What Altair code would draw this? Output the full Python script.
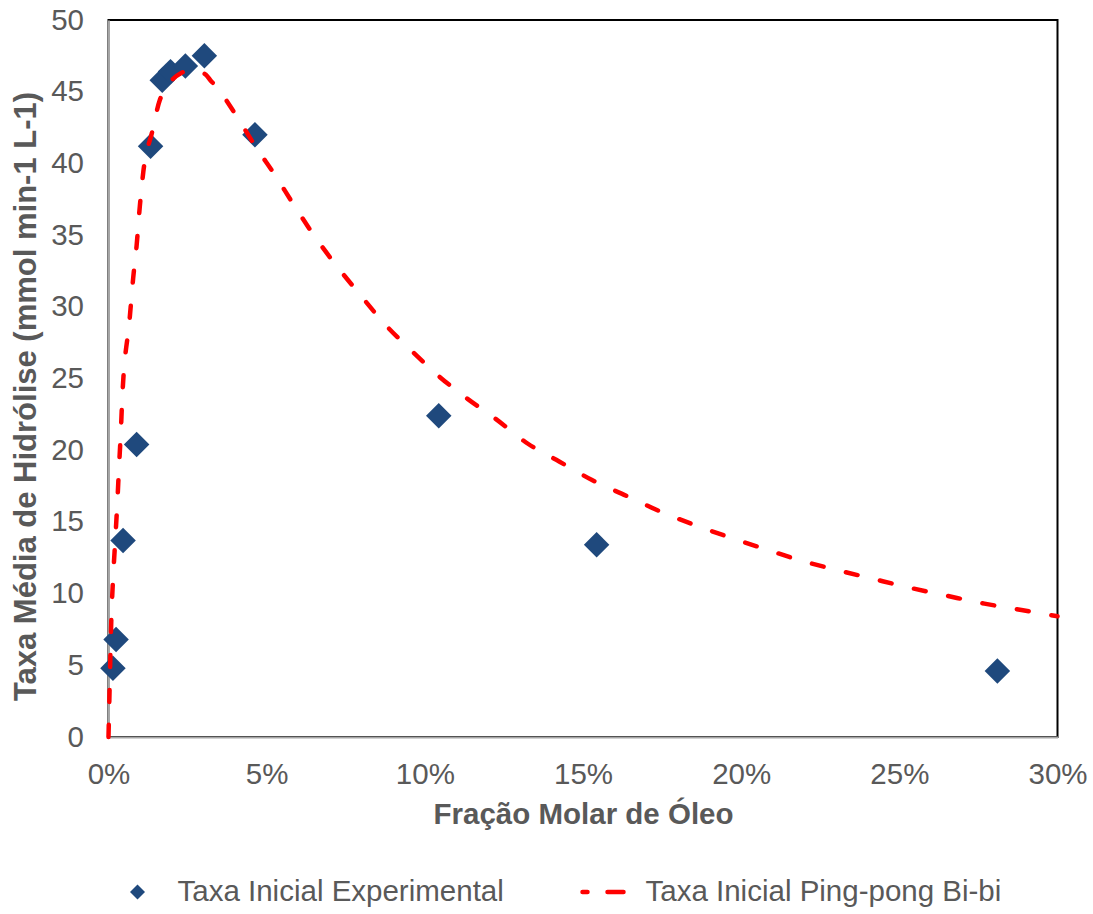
import altair as alt
import pandas as pd

# Experimental initial hydrolysis rates (oil molar fraction, mmol min-1 L-1)
exp_fraction = [0.0014, 0.0024, 0.0046, 0.0089, 0.0133, 0.0170, 0.0196, 0.0243,
                0.0303, 0.0463, 0.1044, 0.1543, 0.2810]
exp_rate = [4.8, 6.8, 13.7, 20.4, 41.2, 45.8, 46.4, 46.8, 47.5, 42.0, 22.4, 13.4, 4.6]

# Ping-pong Bi-bi model curve
fit_fraction = [0.0000, 0.0003, 0.0009, 0.0015, 0.0021, 0.0028, 0.0033, 0.0039,
                0.0043, 0.0067, 0.0078, 0.0089, 0.0099, 0.0110, 0.0138, 0.0162,
                0.0177, 0.0200, 0.0230, 0.0260, 0.0285, 0.0307, 0.0322, 0.0343,
                0.0396, 0.0470, 0.0523, 0.0586, 0.0652, 0.0723, 0.0797, 0.0873,
                0.0955, 0.1042, 0.1134, 0.1223, 0.1326, 0.1426, 0.1530, 0.1639,
                0.1747, 0.1856, 0.1970, 0.2082, 0.2194, 0.2308, 0.2422, 0.2537,
                0.2654, 0.2769, 0.2886, 0.3000]
fit_rate = [0.0, 2.9, 8.25, 11.3, 13.6, 16.4, 18.7, 21.3,
            23.4, 29.2, 32.0, 34.3, 37.0, 39.4, 42.2, 44.4,
            45.1, 45.8, 46.3, 46.5, 46.4, 46.2, 45.8, 45.3,
            43.6, 41.0, 39.3, 37.1, 34.9, 32.8, 30.8, 28.8,
            27.0, 25.2, 23.6, 22.2, 20.45, 19.2, 17.9, 16.8,
            15.7, 14.76, 13.88, 13.06, 12.27, 11.62, 11.0, 10.39,
            9.83, 9.30, 8.86, 8.42]

series = ["Taxa Inicial Experimental", "Taxa Inicial Ping-pong Bi-bi"]

x_ticks = [0, 0.05, 0.10, 0.15, 0.20, 0.25, 0.30]
y_ticks = [0, 5, 10, 15, 20, 25, 30, 35, 40, 45, 50]

W, H = 949, 717
BLUE = "#1F497D"
RED = "#FF0000"
TEXT = "#595959"
AXIS_GREY = "#A6A6A6"
FONT = "Liberation Sans"
FS = 29.5

exp_df = pd.DataFrame({"fracao": exp_fraction, "taxa": exp_rate, "serie": series[0]})
fit_df = pd.DataFrame({"fracao": fit_fraction, "taxa": fit_rate, "serie": series[1]})

x_scale = alt.Scale(domain=[0, 0.3], nice=False)
y_scale = alt.Scale(domain=[0, 50], nice=False)

x_axis = alt.Axis(
    title="Fração Molar de Óleo", values=x_ticks, format=".0%",
    grid=False, ticks=False, tickSize=0, labelPadding=23, titlePadding=12,
    labelFlush=False, labelOverlap=False,
    domainColor=AXIS_GREY, domainWidth=2,
)
y_axis = alt.Axis(
    title="Taxa Média de Hidrólise (mmol min-1 L-1)", values=y_ticks,
    grid=False, ticks=False, tickSize=0, labelPadding=25,
    labelFlush=False, labelOverlap=False,
    domainColor=AXIS_GREY, domainWidth=2,
    titleFontSize=31, titleX=-82, titleY=376, titleBaseline="middle",
)

points = alt.Chart(exp_df).mark_point(
    shape="diamond", filled=True, size=650, color=BLUE, opacity=1
).encode(
    x=alt.X("fracao:Q", scale=x_scale, axis=x_axis),
    y=alt.Y("taxa:Q", scale=y_scale, axis=y_axis),
)

curve = alt.Chart(fit_df).mark_line(
    color=RED, strokeWidth=4.5, strokeDash=[12, 23], strokeCap="round",
    interpolate="monotone",
).encode(x="fracao:Q", y="taxa:Q")

# legend below the x-axis title
LEG_Y = 872
leg_exp = pd.DataFrame({"serie": [series[0]]})
leg_fit = pd.DataFrame({"serie": [series[1]]})

leg_symbol = alt.Chart(leg_exp).mark_point(
    shape="diamond", filled=True, size=225, color=BLUE, opacity=1
).encode(x=alt.value(29), y=alt.value(LEG_Y))

leg_text_exp = alt.Chart(leg_exp).mark_text(
    align="left", baseline="middle", fontSize=FS, font=FONT, color=TEXT
).encode(x=alt.value(69), y=alt.value(LEG_Y), text="serie:N")

leg_dash = alt.Chart(leg_fit).mark_rule(
    color=RED, strokeWidth=4.5, strokeCap="round", strokeDash=[5, 20, 16, 100]
).encode(x=alt.value(474), x2=alt.value(515), y=alt.value(LEG_Y))

leg_text_fit = alt.Chart(leg_fit).mark_text(
    align="left", baseline="middle", fontSize=FS, font=FONT, color=TEXT
).encode(x=alt.value(537), y=alt.value(LEG_Y), text="serie:N")

chart = alt.layer(
    points, curve, leg_symbol, leg_text_exp, leg_dash, leg_text_fit
).properties(
    width=W, height=H,
    padding={"left": 10.5, "top": 5, "right": 0, "bottom": 0},
).configure_view(
    stroke="black", strokeWidth=2
).configure_axis(
    labelFont=FONT, labelFontSize=FS, labelColor=TEXT,
    titleFont=FONT, titleFontSize=FS, titleFontWeight="bold", titleColor=TEXT,
)

chart.save("out.html", embed_options={"renderer": "svg", "actions": False})
